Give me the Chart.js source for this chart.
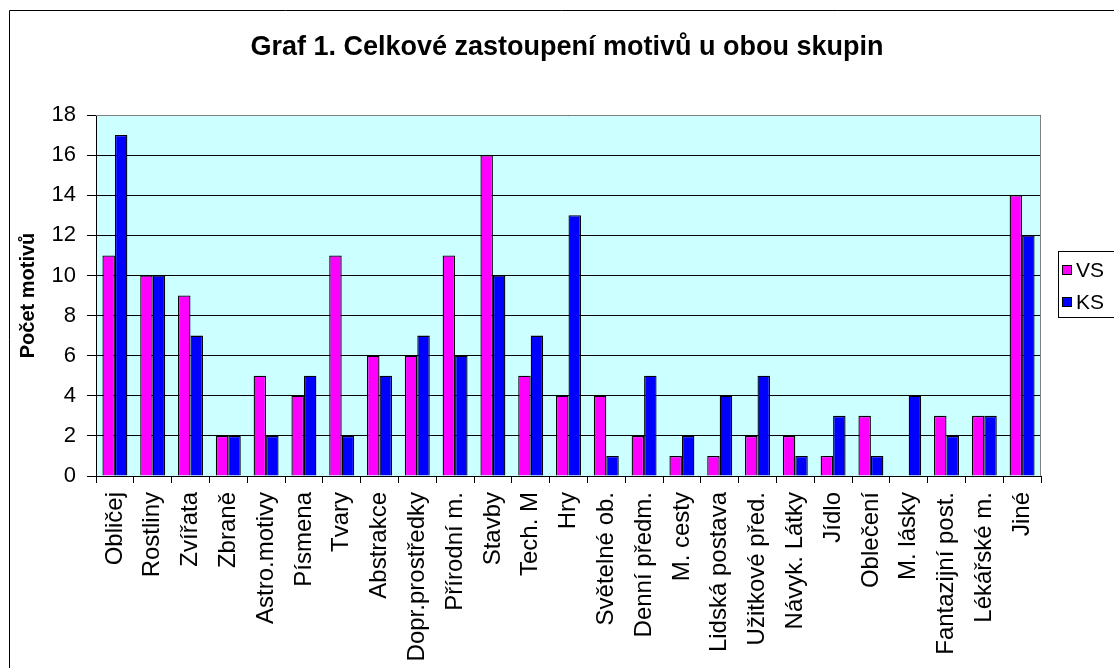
<!DOCTYPE html>
<html>
<head>
<meta charset="utf-8">
<script src="https://cdn.jsdelivr.net/npm/chart.js@4"></script>
<style>
body{margin:0;background:#fff}
canvas{display:block}
</style>
</head>
<body>
<canvas id="myChart" width="1114" height="668"></canvas>
<script>
var categories = ["Obličej","Rostliny","Zvířata","Zbraně","Astro.motivy","Písmena","Tvary","Abstrakce","Dopr.prostředky","Přírodní m.","Stavby","Tech. M","Hry","Světelné ob.","Denní předm.","M. cesty","Lidská postava","Užitkové před.","Návyk. Látky","Jídlo","Oblečení","M. lásky","Fantazijní post.","Lékářské m.","Jiné"]
var vsValues = [11,10,9,2,5,4,11,6,6,11,16,5,4,4,2,1,1,2,2,1,3,0,3,3,14]
var ksValues = [17,10,7,2,2,5,2,5,7,6,10,7,13,1,5,2,4,5,1,3,1,4,2,3,12]
var yTicks = [0,2,4,6,8,10,12,14,16,18]
var chartTitle = "Graf 1. Celkové zastoupení motivů u obou skupin"
var yTitle = "Počet motivů"

// background, frame, title, plot fill and legend box
var decor = {
    id: "decor",
    beforeDraw(chart){
        let c = chart.ctx
        let a = chart.chartArea
        c.save()
        c.fillStyle = "#fff"
        c.fillRect(0,0,chart.width,chart.height)
        c.strokeStyle = "#000"
        c.lineWidth = 1
        c.beginPath()
        c.moveTo(9.5,chart.height)
        c.lineTo(9.5,10.5)
        c.lineTo(chart.width,10.5)
        c.stroke()
        c.fillStyle = "#CCFFFF"
        c.fillRect(a.left,a.top,a.right-a.left,a.bottom-a.top)
        c.fillStyle = "#000"
        c.font = "bold 27px Arial, 'Liberation Sans'"
        c.textAlign = "center"
        c.textBaseline = "middle"
        c.fillText(chartTitle,567,48)
        c.restore()
    },
    afterDraw(chart){
        let c = chart.ctx
        let a = chart.chartArea
        c.save()
        c.strokeStyle = "#808080"
        c.lineWidth = 1
        c.beginPath()
        c.moveTo(a.left,a.top+0.5)
        c.lineTo(a.right-0.5,a.top+0.5)
        c.lineTo(a.right-0.5,a.bottom)
        c.stroke()
        // legend
        c.strokeStyle = "#000"
        c.strokeRect(1058.5,251.5,80,66)
        c.font = "21px Arial, 'Liberation Sans'"
        c.textBaseline = "middle"
        c.textAlign = "left"
        chart.data.datasets.forEach((ds,i) => {
            let y = 270 + i*32
            c.fillStyle = ds.backgroundColor
            c.fillRect(1062,y-5,10,10)
            c.strokeRect(1062.5,y-4.5,9,9)
            c.fillStyle = "#000"
            c.fillText(ds.label,1076,y+1)
        })
        c.restore()
    }
}

const ctx = document.getElementById("myChart")
var chart = new Chart(ctx, {
    type: "bar",
    data: {
        labels: categories,
        datasets: [{
            label: "VS",
            backgroundColor: "#FF00FF",
            borderColor: "#000",
            borderWidth: 1.3,
            data: vsValues
        },
        {
            label: "KS",
            backgroundColor: "#0000FF",
            borderColor: "#000",
            borderWidth: 1.3,
            data: ksValues
        }]
    },
    options: {
        responsive: false,
        animation: false,
        devicePixelRatio: 1,
        categoryPercentage: 0.66,
        barPercentage: 1,
        layout: {padding: {left: 0, top: 115, right: 73, bottom: 0}},
        plugins: {
            legend: {display: false},
            tooltip: {enabled: false}
        },
        scales: {
            x: {
                offset: true,
                afterFit(scale){ scale.height = 192 },
                grid: {offset: true, drawOnChartArea: false, color: "#000", tickLength: 7},
                border: {color: "#000"},
                ticks: {
                    color: "#000",
                    minRotation: 90,
                    maxRotation: 90,
                    autoSkip: false,
                    padding: 9,
                    font: {family: "Arial, 'Liberation Sans'", size: 24}
                }
            },
            y: {
                min: 0,
                max: 18,
                afterFit(scale){ scale.width = 96 },
                afterBuildTicks(scale){ scale.ticks = yTicks.map(v => ({value: v})) },
                grid: {color: "#000", tickColor: "#000", tickLength: 9},
                border: {color: "#000"},
                ticks: {
                    color: "#000",
                    padding: 11,
                    font: {family: "Arial, 'Liberation Sans'", size: 22}
                },
                title: {
                    display: true,
                    text: yTitle,
                    color: "#000",
                    padding: {top: 16, bottom: 0},
                    font: {family: "Arial, 'Liberation Sans'", size: 20, weight: "bold"}
                }
            }
        }
    },
    plugins: [decor]
})
</script>
</body>
</html>
